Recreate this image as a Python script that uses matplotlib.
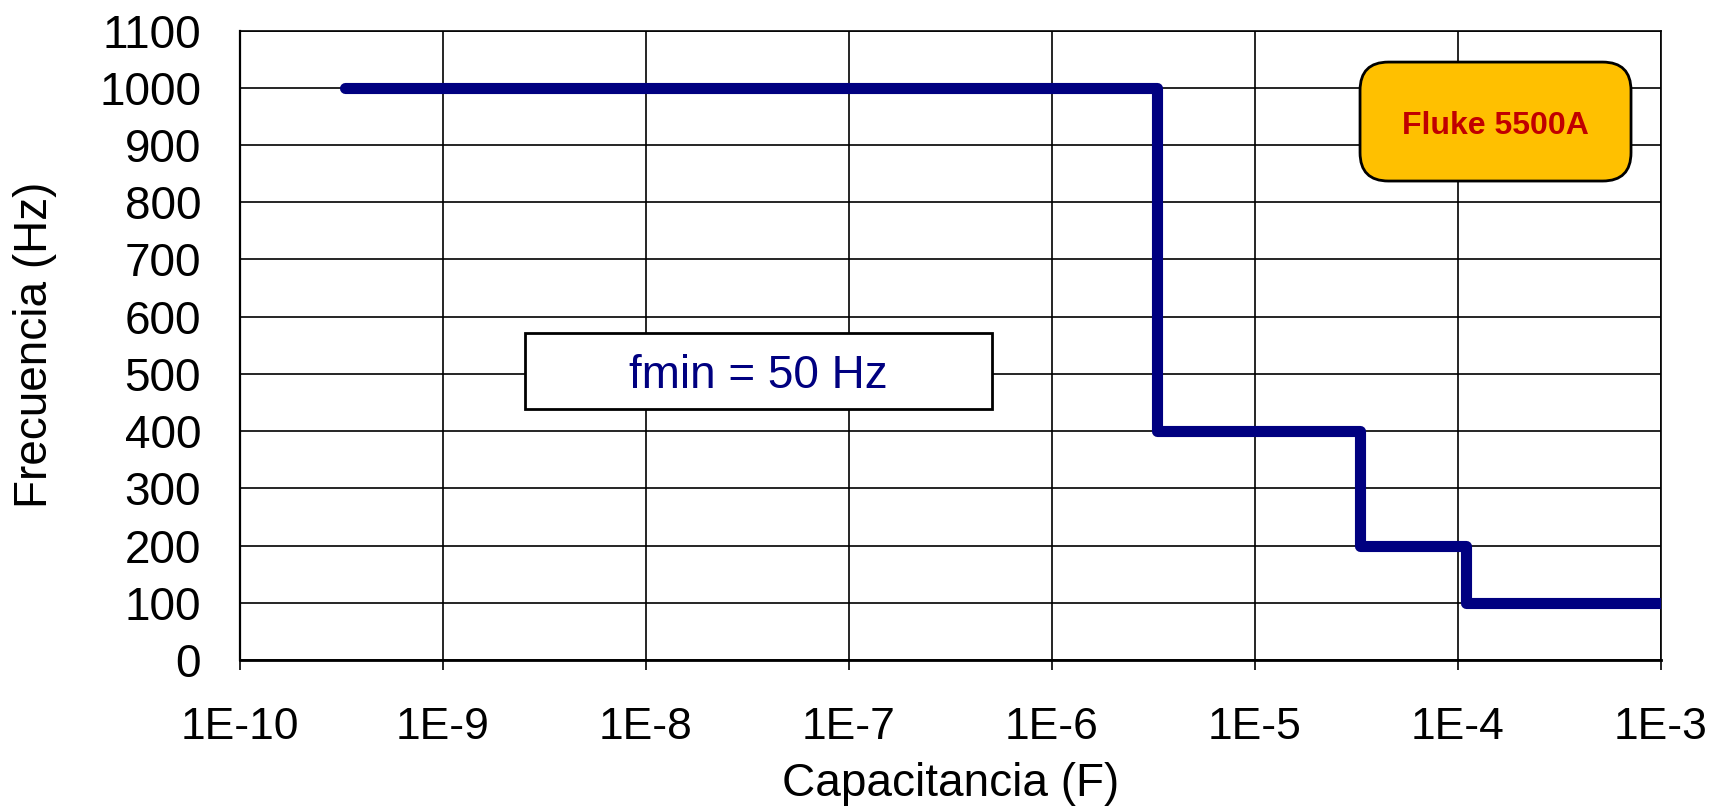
import matplotlib
matplotlib.use("Agg")
import matplotlib.pyplot as plt
from matplotlib.patches import Rectangle, FancyBboxPatch

plt.rcParams['font.family'] = ['Liberation Sans', 'DejaVu Sans']

# step curve: capacitance (F) vs max frequency (Hz)
cap = [3.3e-10, 3.3e-6, 3.3e-5, 1.1e-4, 1e-3]
freq = [1000, 400, 200, 100, 100]

xticks = [1e-10, 1e-9, 1e-8, 1e-7, 1e-6, 1e-5, 1e-4, 1e-3]
xtick_labels = ['1E-10', '1E-9', '1E-8', '1E-7', '1E-6', '1E-5', '1E-4', '1E-3']
yticks = list(range(0, 1101, 100))

W, H = 1713, 809
fig = plt.figure(figsize=(W / 100, H / 100), dpi=100)
ax = fig.add_axes([240 / W, (H - 660) / H, 1421 / W, 629.4 / H])

ax.step(cap, freq, where='post', color='#000080', lw=8,
        solid_capstyle='round', solid_joinstyle='round', zorder=3)

ax.set_xscale('log')
ax.set_xlim(1e-10, 1e-3)
ax.set_ylim(0, 1100)
ax.set_xticks(xticks)
ax.set_xticklabels(xtick_labels)
ax.minorticks_off()
ax.set_yticks(yticks)
ax.grid(True, color='black', lw=1.2)
ax.set_axisbelow(True)
for s in ax.spines.values():
    s.set_linewidth(1.2)
ax.spines['bottom'].set_linewidth(2)
ax.spines['left'].set_linewidth(1.6)

ax.tick_params(axis='x', length=7, width=1.2, pad=27, labelsize=32)
ax.tick_params(axis='y', length=0, pad=28, labelsize=33)

ax.set_xlabel('Capacitancia (F)', fontsize=33, labelpad=10)
ax.set_ylabel('Frecuencia (Hz)', fontsize=33, labelpad=30)

# fmin box
ax.add_patch(Rectangle((0.2005, 0.3985), 0.3286, 0.1208, transform=ax.transAxes,
                       facecolor='white', edgecolor='black', lw=2, zorder=4))
ax.text(0.3648, 0.452, 'fmin = 50 Hz', transform=ax.transAxes, color='#000080',
        fontsize=33, ha='center', va='center', zorder=5)

# Fluke label
aspect = 1421 / 629.4
ax.add_patch(FancyBboxPatch((0.7882, 0.761), 0.1907, 0.189, transform=ax.transAxes,
                            boxstyle='round,pad=0,rounding_size=0.02', mutation_aspect=aspect,
                            facecolor='#FFC000', edgecolor='black', lw=2, zorder=4))
ax.text(0.8835, 0.849, 'Fluke 5500A', transform=ax.transAxes, color='#C00000',
        fontsize=23, fontweight='bold', ha='center', va='center', zorder=5)

fig.savefig('out.png', dpi=100)
